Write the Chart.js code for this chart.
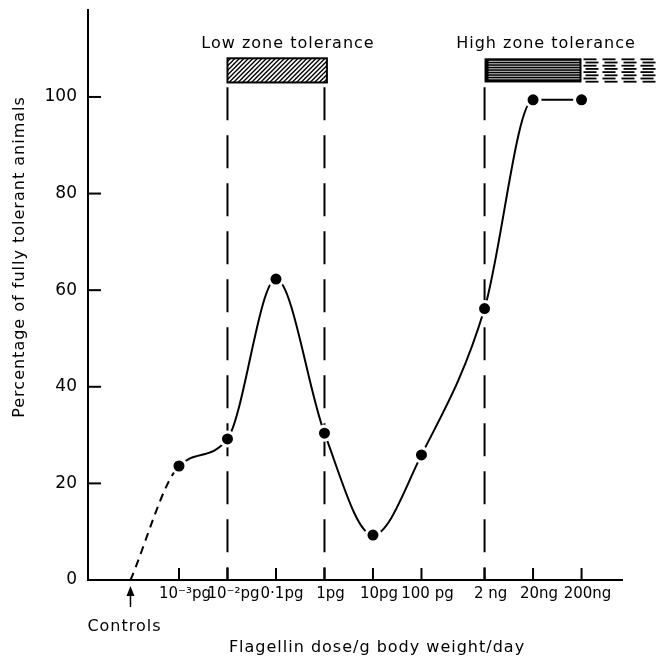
<!DOCTYPE html>
<html>
<head>
<meta charset="utf-8">
<script src="https://cdn.jsdelivr.net/npm/chart.js@4.4.0/dist/chart.umd.min.js"></script>
<style>
html, body { margin: 0; padding: 0; background: #fff; }
</style>
</head>
<body>
<canvas id="myChart" width="664" height="659"></canvas>
<script>
// x values are log10 of the dose in pg
const doseLabels = ['10⁻³pg', '10⁻²pg', '0·1pg', '1pg', '10pg', '100 pg', '2 ng', '20ng', '200ng'];
const doseLog = [-3, -2, -1, 0, 1, 2, 3.301, 4.301, 5.301];
const tolerant = [23.6, 29.2, 62.3, 30.4, 9.3, 25.9, 56.2, 99.4, 99.4];
const controlsLog = -4;
const controlsValue = 0;
const yTicks = [0, 20, 40, 60, 80, 100];

const zoneLineX = [-2, 0, 3.301];
const zoneLineTop = 102;
const lowZone = [-2, 0.05];
const highZone = [3.301, 6.9];
const zoneBand = [103.0, 108.0];

const ctx = document.getElementById('myChart');
const FONT = '"DejaVu Sans", sans-serif';

const curve = [{ x: controlsLog, y: controlsValue }].concat(
  doseLog.map((v, i) => ({ x: v, y: tolerant[i] }))
);

const zoneSets = zoneLineX.map(v => ({
  data: [{ x: v, y: zoneLineTop }, { x: v, y: 0 }],
  borderColor: '#000',
  borderWidth: 2,
  borderDash: [33, 15],
  pointRadius: 0,
  order: 2
}));

const extras = {
  id: 'extras',
  afterDraw(chart) {
    const c = chart.ctx;
    const x = chart.scales.x, y = chart.scales.y;
    c.save();
    c.strokeStyle = '#000';
    c.fillStyle = '#000';
    c.lineWidth = 2;
    // inward tick marks
    y.ticks.forEach(t => {
      const py = y.getPixelForValue(t.value);
      c.beginPath(); c.moveTo(x.left, py); c.lineTo(x.left + 13, py); c.stroke();
    });
    x.ticks.forEach(t => {
      const px = x.getPixelForValue(t.value);
      c.beginPath(); c.moveTo(px, y.bottom); c.lineTo(px, y.bottom - 12); c.stroke();
    });

    // low zone hatched box
    const lx0 = x.getPixelForValue(lowZone[0]), lx1 = x.getPixelForValue(lowZone[1]);
    const by0 = y.getPixelForValue(zoneBand[1]), by1 = y.getPixelForValue(zoneBand[0]);
    c.save();
    c.beginPath(); c.rect(lx0, by0, lx1 - lx0, by1 - by0); c.clip();
    c.lineWidth = 1.4;
    for (let k = lx0 - 30; k < lx1 + 30; k += 4.5) {
      c.beginPath(); c.moveTo(k, by1); c.lineTo(k + (by1 - by0), by0); c.stroke();
    }
    c.restore();
    c.lineWidth = 2;
    c.strokeRect(lx0, by0, lx1 - lx0, by1 - by0);

    // high zone striped box
    const hx0 = x.getPixelForValue(highZone[0]), hx1 = x.getPixelForValue(highZone[1]);
    const hmid = x.getPixelForValue(5.3);
    c.fillRect(hx0, by0, hmid - hx0, by1 - by0);
    c.strokeStyle = '#fff';
    c.lineWidth = 0.8;
    for (let r = by0 + 3; r < by1 - 2; r += 2.5) {
      c.beginPath(); c.moveTo(hx0 + 4, r); c.lineTo(hmid - 2, r); c.stroke();
    }
    c.strokeStyle = '#000';
    c.lineWidth = 1.8;
    for (let bx = hmid + 2; bx < hx1; bx += 19) {
      for (let r = by0 + 1; r < by1; r += 3.2) {
        const off = (Math.round((r - by0) / 3.2) % 2) * 2;
        c.beginPath(); c.moveTo(bx + off, r); c.lineTo(Math.min(bx + 13 + off, hx1), r); c.stroke();
      }
    }

    // zone labels
    c.font = '16px ' + FONT;
    c.letterSpacing = '1px';
    c.textAlign = 'center';
    c.textBaseline = 'middle';
    c.fillText('Low zone tolerance', 288, by0 - 14);
    c.fillText('High zone tolerance', 546, by0 - 14);

    // controls arrow
    const cx = x.getPixelForValue(controlsLog);
    c.lineWidth = 1.5;
    c.beginPath(); c.moveTo(cx, y.bottom + 10); c.lineTo(cx, y.bottom + 27); c.stroke();
    c.beginPath(); c.moveTo(cx, y.bottom + 6); c.lineTo(cx - 4, y.bottom + 16); c.lineTo(cx + 4, y.bottom + 16); c.closePath(); c.fill();
    c.fillText('Controls', cx - 6, y.bottom + 47);

    // axis titles
    c.fillText('Flagellin dose/g body weight/day', (x.left + x.right) / 2 + 22, y.bottom + 68);
    c.save();
    c.translate(20, 257);
    c.rotate(-Math.PI / 2);
    c.fillText('Percentage of fully tolerant animals', 0, 0);
    c.restore();
    c.restore();
  }
};

new Chart(ctx, {
  type: 'line',
  data: {
    datasets: [{
      data: curve,
      borderColor: '#000',
      borderWidth: 2,
      cubicInterpolationMode: 'monotone',
      pointRadius: curve.map((p, i) => i === 0 ? 0 : 7),
      pointBackgroundColor: '#000',
      pointBorderColor: '#fff',
      pointBorderWidth: 3,
      segment: {
        borderDash: s => s.p0DataIndex === 0 ? [8, 6] : undefined
      },
      order: 1
    }].concat(zoneSets)
  },
  options: {
    responsive: false,
    animation: false,
    devicePixelRatio: 1,
    layout: { padding: { top: 2, right: 42, left: 0, bottom: 0 } },
    plugins: { legend: { display: false }, tooltip: { enabled: false } },
    scales: {
      x: {
        type: 'linear',
        min: -4.876,
        max: 6.135,
        afterBuildTicks: s => { s.ticks = doseLog.map(v => ({ value: v })); },
        afterFit: s => { s.height = 79; },
        grid: { display: false, drawTicks: false },
        border: { display: true, color: '#000', width: 2 },
        ticks: {
          autoSkip: false,
          maxRotation: 0,
          padding: 5,
          labelOffset: 6,
          color: '#000',
          font: { family: FONT, size: 15 },
          callback: (v, i) => doseLabels[i]
        }
      },
      y: {
        min: 0,
        max: 118,
        afterBuildTicks: s => { s.ticks = yTicks.map(v => ({ value: v })); },
        afterFit: s => { s.width = 88; s.paddingTop = 0; },
        grid: { display: false, drawTicks: false },
        border: { display: true, color: '#000', width: 2 },
        ticks: {
          padding: 11,
          color: '#000',
          font: { family: FONT, size: 17 }
        }
      }
    }
  },
  plugins: [extras]
});
</script>
</body>
</html>
